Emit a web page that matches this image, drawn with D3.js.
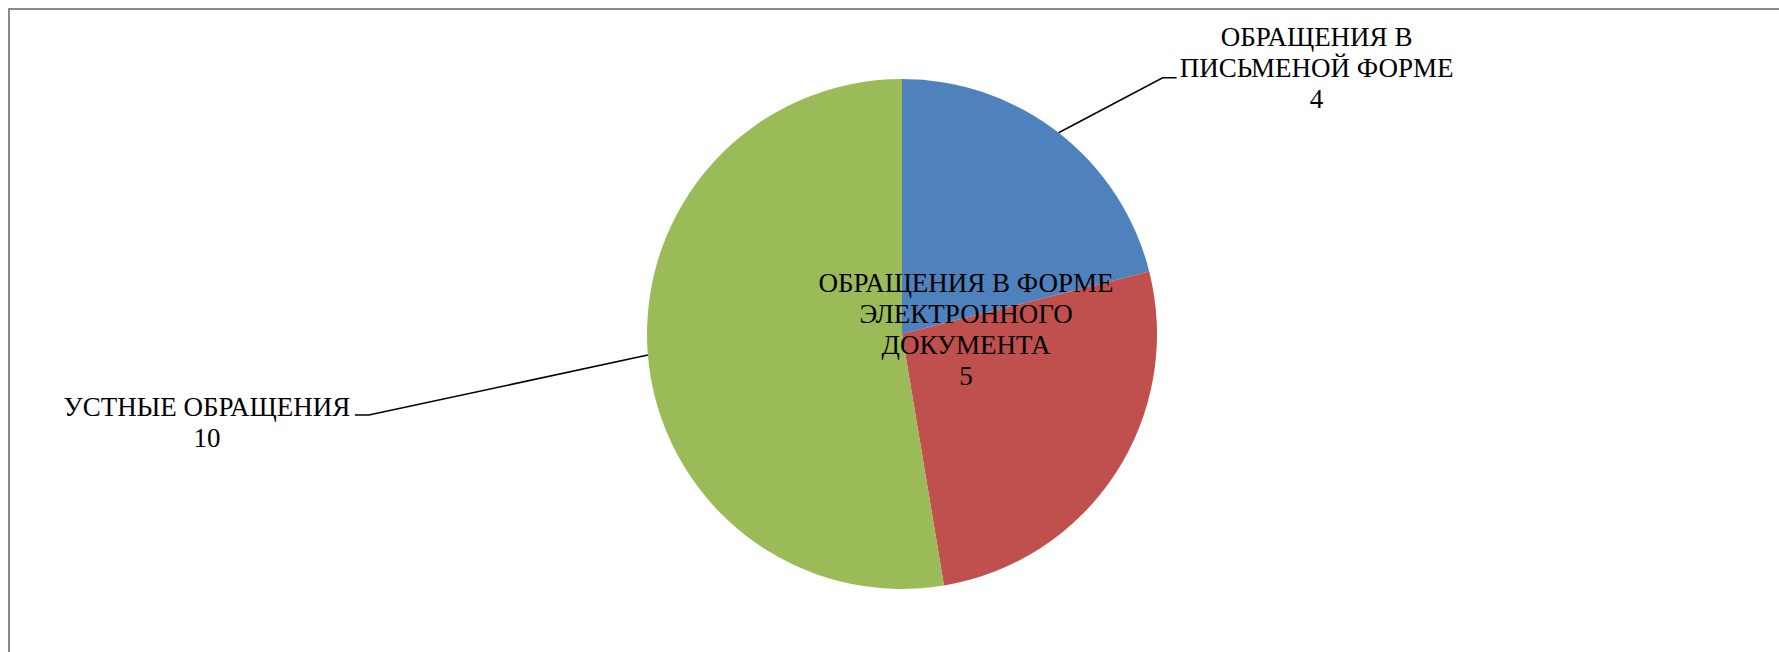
<!DOCTYPE html>
<html lang="ru">
<head>
    <meta charset="UTF-8">
    <title>Обращения</title>
    <style>
        body { margin: 0; background: #fff; }
        svg { display: block; }
        text { font-family: "Liberation Serif", "Times New Roman", serif; font-size: 27px; fill: #000; }
    </style>
</head>
<body>
<svg width="1779" height="652"></svg>
<script src="https://d3js.org/d3.v7.min.js"></script>
<script>
    // data
    let categories = [
        ["ОБРАЩЕНИЯ В", "ПИСЬМЕНОЙ ФОРМЕ"],
        ["ОБРАЩЕНИЯ В ФОРМЕ", "ЭЛЕКТРОННОГО", "ДОКУМЕНТА"],
        ["УСТНЫЕ ОБРАЩЕНИЯ"]
    ];
    let values = [4, 5, 10];
    let colors = ["#4F81BD", "#C0504D", "#9BBB59"];

    let svg = d3.select("svg");
    let cx = 902, cy = 334, R = 255, lineH = 31;

    // chart frame (only left and top edges are in view)
    svg.append("rect")
        .attr("x", 9).attr("y", 9)
        .attr("width", 1800).attr("height", 700)
        .style("fill", "none")
        .style("stroke", "#8a8a8a")
        .style("stroke-width", 2);

    let pie = d3.pie().sort(null).value(function (d) { return d; });
    let arcs = pie(values);
    let arcGenerator = d3.arc().innerRadius(0).outerRadius(R);

    let g = svg.append("g").attr("transform", "translate(" + cx + "," + cy + ")");

    g.selectAll("path")
        .data(arcs)
        .enter()
        .append("path")
        .attr("d", arcGenerator)
        .style("fill", function (d, i) { return colors[i]; });

    function polar(a, r) { return [r * Math.sin(a), -r * Math.cos(a)]; }

    // label placement: "out" = leader line + label, "in" = label on the slice
    let layout = [
        {mode: "out", dx: 104, dy: -55, tick: 14, anchorDx: 154, midLine: 1, shift: -1},
        {mode: "in", r: 0.3},
        {mode: "out", dx: -279, dy: 60, tick: -14, anchorDx: -162, midLine: 0, shift: 1}
    ];

    arcs.forEach(function (d, i) {
        let mid = (d.startAngle + d.endAngle) / 2;
        let L = layout[i];
        let lines = categories[i].concat([String(values[i])]);
        let x, yFirst;
        if (L.mode === "out") {
            let p = polar(mid, R);
            let elbow = [p[0] + L.dx, p[1] + L.dy];
            let end = [elbow[0] + L.tick, elbow[1]];
            g.append("path")
                .attr("d", d3.line()([p, elbow, end]))
                .style("fill", "none")
                .style("stroke", "#000")
                .style("stroke-width", 1.5);
            x = elbow[0] + L.anchorDx;
            yFirst = elbow[1] - L.midLine * lineH + L.shift;
        } else {
            let p = polar(mid, R * L.r);
            x = p[0];
            yFirst = p[1] - (lines.length - 1) * lineH + 9;
        }
        let t = g.append("text").attr("text-anchor", "middle");
        lines.forEach(function (s, k) {
            t.append("tspan").attr("x", x).attr("y", yFirst + k * lineH).text(s);
        });
    });
</script>
</body>
</html>
